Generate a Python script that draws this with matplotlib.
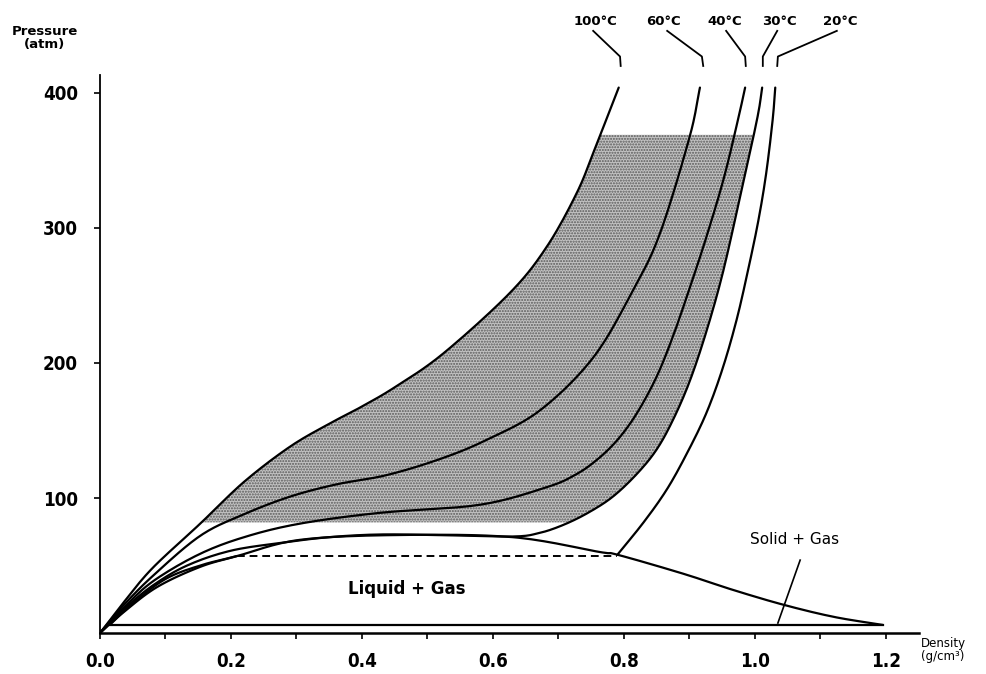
import numpy as np
import matplotlib
matplotlib.use("Agg")
from matplotlib import pyplot as plt
from matplotlib.ticker import MultipleLocator

# isotherms of CO2, density (g/cm3) vs pressure (atm)
d_100 = [0.0, 0.035, 0.08, 0.153, 0.22, 0.29, 0.35, 0.397, 0.45, 0.524, 0.626, 0.682, 0.728, 0.755, 0.792]
p_100 = [0, 22, 48, 81, 112, 138, 155, 167, 182, 207, 252, 286, 326, 358, 404]

d_60 = [0.0, 0.035, 0.08, 0.153, 0.22, 0.29, 0.36, 0.438, 0.52, 0.59, 0.672, 0.753, 0.814, 0.855, 0.90, 0.916]
p_60 = [0, 20, 42, 72, 88, 101, 110, 117, 129, 143, 165, 204, 254, 296, 367, 404]

d_40 = [0.0, 0.035, 0.08, 0.15, 0.22, 0.305, 0.427, 0.58, 0.682, 0.725, 0.758, 0.79, 0.82, 0.85, 0.875, 0.90, 0.925, 0.952, 0.974, 0.985]
p_40 = [0, 18, 38, 58, 71, 81, 89, 95, 108, 117, 128, 143, 163, 190, 220, 255, 292, 336, 380, 404]

d_30 = [0.0, 0.035, 0.08, 0.133, 0.2, 0.28, 0.35, 0.427, 0.52, 0.63, 0.67, 0.707, 0.745, 0.783, 0.82, 0.85, 0.875, 0.90, 0.925, 0.95, 0.975, 1.003, 1.011]
p_30 = [0, 17, 35, 50, 61, 67, 71, 73, 72.5, 71.5, 74, 80, 89, 101, 118, 136, 158, 186, 222, 265, 318, 380, 404]

d_20_gas = [0.0, 0.035, 0.087, 0.153, 0.209]
p_20_gas = [0, 15, 34, 49, 57]
d_20_liq = [0.79, 0.83, 0.865, 0.895, 0.925, 0.95, 0.972, 0.99, 1.005, 1.017, 1.027, 1.031]
p_20_liq = [58, 82, 106, 132, 162, 195, 232, 270, 305, 340, 380, 404]
d_20_tie = [0.209, 0.79]
p_20_tie = [57, 57]

# two-phase boundary and triple-point line
d_dome = [0.015, 0.05, 0.1, 0.153, 0.209, 0.305, 0.458, 0.63, 0.763, 0.79, 0.89, 0.966, 1.043, 1.12, 1.195]
p_dome = [6, 22, 40, 50, 57, 69, 72.6, 71, 60, 58, 44, 32, 21, 12, 6]
d_triple = [0.015, 1.195]
p_triple = [6, 6]

# shaded (supercritical working) region
p_shade_lo, p_shade_hi = 82, 369

temps = ["100°C", "60°C", "40°C", "30°C", "20°C"]
label_d = [0.757, 0.861, 0.954, 1.038, 1.13]
label_p = 453
leader_d = [[0.753, 0.794, 0.795], [0.866, 0.919, 0.921], [0.956, 0.985, 0.986],
            [1.034, 1.012, 1.012], [1.125, 1.035, 1.034]]
leader_p = [446, 427, 420]

xticks = [0.0, 0.2, 0.4, 0.6, 0.8, 1.0, 1.2]
yticks = [100, 200, 300, 400]


def smooth(xs, ys, n=16):
    # Catmull-Rom pass through the read points, only for drawing
    pts = np.column_stack([xs, ys]).astype(float)
    if len(pts) < 3:
        return pts[:, 0], pts[:, 1]
    ext = np.vstack([2 * pts[0] - pts[1], pts, 2 * pts[-1] - pts[-2]])
    t = np.linspace(0, 1, n, endpoint=False)[:, None]
    out = []
    for i in range(1, len(ext) - 2):
        p0, p1, p2, p3 = ext[i - 1], ext[i], ext[i + 1], ext[i + 2]
        c1 = p1 + (p2 - p0) / 6.0
        c2 = p2 - (p3 - p1) / 6.0
        seg = ((1 - t) ** 3) * p1 + 3 * ((1 - t) ** 2) * t * c1 + 3 * (1 - t) * t ** 2 * c2 + t ** 3 * p2
        out.append(seg)
    out.append(pts[-1:])
    out = np.vstack(out)
    return out[:, 0], out[:, 1]


def clip_band(xs, ys, lo, hi):
    m = (ys > lo) & (ys < hi)
    x = np.concatenate([[np.interp(lo, ys, xs)], xs[m], [np.interp(hi, ys, xs)]])
    y = np.concatenate([[lo], ys[m], [hi]])
    return x, y


fig = plt.figure(figsize=(9.87, 6.74), dpi=100)
ax = fig.add_axes([0.1013, 0.0608, 0.8295, 0.8273])
ax.set_xlim(0, 1.25)
ax.set_ylim(0, 413)

curves = {}
for name, d, p in [("100", d_100, p_100), ("60", d_60, p_60), ("40", d_40, p_40), ("30", d_30, p_30),
                   ("20g", d_20_gas, p_20_gas), ("20l", d_20_liq, p_20_liq), ("dome", d_dome, p_dome)]:
    curves[name] = smooth(d, p)

# shading between 100C and 30C isotherms
sx, sy = curves["100"]
lx, ly = clip_band(sx, sy, p_shade_lo, p_shade_hi)
sx, sy = curves["30"]
keep = sx >= 0.70
rx, ry = clip_band(sx[keep], sy[keep], p_shade_lo, p_shade_hi)
plt.rcParams["hatch.linewidth"] = 1.0
ax.fill(np.concatenate([lx, rx[::-1]]), np.concatenate([ly, ry[::-1]]),
        facecolor="#c2c2c2", edgecolor="#5a5a5a", hatch="......", linewidth=0, zorder=1)

lw = 1.6
for name in curves:
    ax.plot(curves[name][0], curves[name][1], color="black", lw=lw, solid_capstyle="round", zorder=3)
ax.plot(d_triple, p_triple, color="black", lw=lw, zorder=3)
ax.plot(d_20_tie, p_20_tie, color="black", lw=1.4, ls=(0, (4, 2.5)), zorder=3)

# isotherm labels with leader lines
for t, x, ld in zip(temps, label_d, leader_d):
    ax.text(x, label_p, t, ha="center", va="center", fontsize=9.5, fontweight="bold", clip_on=False)
    ax.plot(ld, leader_p, color="black", lw=1.3, clip_on=False)

ax.text(0.469, 32.6, "Liquid + Gas", ha="center", va="center", fontsize=12, fontweight="bold")
ax.text(1.06, 69, "Solid + Gas", ha="center", va="center", fontsize=11)
ax.plot([1.069, 1.035], [54, 7.4], color="black", lw=1.2)

for s in ["top", "right"]:
    ax.spines[s].set_visible(False)
ax.spines["left"].set_linewidth(1.3)
ax.spines["bottom"].set_linewidth(1.8)
ax.set_xticks(xticks)
ax.set_xticklabels(["{:.1f}".format(v) for v in xticks])
ax.xaxis.set_minor_locator(MultipleLocator(0.1))
ax.set_yticks(yticks)
ax.tick_params(axis="both", which="both", direction="out", length=4, width=1.2)
ax.tick_params(axis="x", pad=10)
ax.tick_params(axis="y", pad=12)
for lab in ax.get_xticklabels() + ax.get_yticklabels():
    lab.set_fontsize(13.5)
    lab.set_fontweight("bold")
    lab.set_fontstretch("condensed")

fig.text(45 / 987, 1 - 38 / 674, "Pressure\n(atm)", ha="center", va="center", fontsize=9.5,
         fontweight="bold", linespacing=0.95)
fig.text(943 / 987, 1 - 650 / 674, "Density\n(g/cm\u00b3)", ha="center", va="center", fontsize=8.5,
         linespacing=0.95)

fig.savefig("out.png", dpi=100)
